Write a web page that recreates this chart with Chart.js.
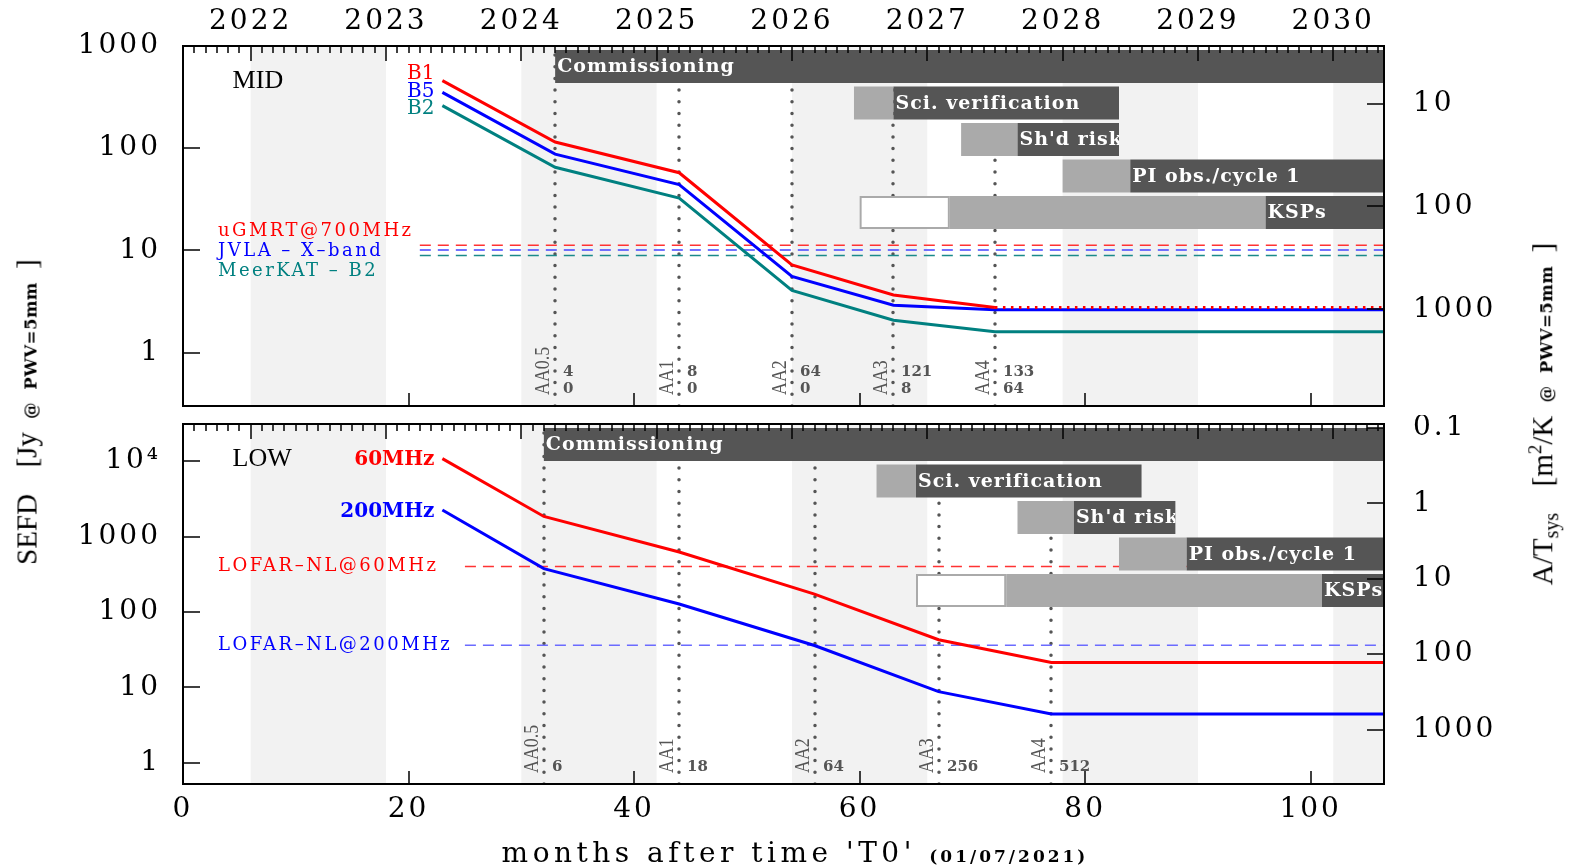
<!DOCTYPE html>
<html>
<head>
<meta charset="utf-8">
<script src="https://cdn.jsdelivr.net/npm/chart.js@4.4.1/dist/chart.umd.min.js"></script>
<style>
  html, body { margin: 0; padding: 0; background: #fff; width: 1575px; height: 866px; overflow: hidden; }
  #cTop { position: absolute; left: 0; top: 0; }
  #cBot { position: absolute; left: 0; top: 415px; }
  .vt { position: absolute; transform: translate(-50%, -50%) rotate(-90deg); white-space: nowrap;
        font-family: 'Liberation Serif', serif; font-size: 29px; color: #000; word-spacing: 6px; }
  .sm { font-family: 'DejaVu Serif', serif; font-weight: bold; font-size: 16.5px; letter-spacing: 0.5px; }
  .ht { position: absolute; transform: translate(-50%, -50%); white-space: nowrap;
        font-family: 'DejaVu Serif', serif; font-size: 28px; letter-spacing: 4.5px; color: #000; }
  .ht .sm2 { font-weight: bold; font-size: 17px; letter-spacing: 3px; }
</style>
</head>
<body>
<canvas id="cTop" width="1575" height="415"></canvas>
<canvas id="cBot" width="1575" height="451"></canvas>
<div class="vt" style="left:27px; top:412px;">SEFD&nbsp;&nbsp;[Jy&nbsp;<span class="sm">@ PWV=5mm</span>&nbsp;]</div>
<div class="vt" style="left:1544px; top:414px;">A/T<sub style="font-size:20px">sys</sub>&nbsp;&nbsp;[m<sup style="font-size:19px">2</sup>/K&nbsp;<span class="sm">@ PWV=5mm</span>&nbsp;]</div>
<div class="ht" style="left:795px; top:852px;">months after time 'T0' <span class="sm2">(01/07/2021)</span></div>
<script>
// ---------------- DATA ----------------
const monthMax = 106.5;
const yearLabels = ['2022', '2023', '2024', '2025', '2026', '2027', '2028', '2029', '2030'];
const yearTickMonths = [6, 18, 30, 42, 54, 66, 78, 90, 102];
const xTickMonths = [0, 10, 20, 30, 40, 50, 60, 70, 80, 90, 100];
const xLabelMonths = [0, 20, 40, 60, 80, 100];

// MID (SEFD in Jy)
const midMonths = [23, 33, 44, 54, 63, 72, 106.5];
const midB1 = [458, 115, 57.5, 7.2, 3.66, 2.76, 2.76];
const midB5 = [352, 87.5, 44, 5.56, 2.9, 2.63, 2.63];
const midB2 = [261, 65, 32.5, 4.06, 2.07, 1.6, 1.6];
const midRefNames = ['uGMRT@700MHz', 'JVLA – X–band', 'MeerKAT – B2'];
const midRefValues = [11.2, 10.1, 8.9];
const midRefStart = 21;
const milestoneNames = ['AA0.5', 'AA1', 'AA2', 'AA3', 'AA4'];
const midMilestoneMonths = [33, 44, 54, 63, 72];
const midDishesSKA = ['4', '8', '64', '121', '133'];
const midDishesMeerKAT = ['0', '0', '0', '8', '64'];

// LOW (SEFD in Jy)
const lowMonths = [23, 32, 44, 56, 67, 77, 106.5];
const low60 = [10800, 1850, 625, 173, 43, 21.5, 21.5];
const low200 = [2250, 376, 128, 36, 8.8, 4.45, 4.45];
const lowRefNames = ['LOFAR–NL@60MHz', 'LOFAR–NL@200MHz'];
const lowRefValues = [400, 36.2];
const lowRefStart = 25;
const lowMilestoneMonths = [32, 44, 56, 67, 77];
const lowStations = ['6', '18', '64', '256', '512'];

// Phases (months): open box start, light start, dark start, end
const phaseNames = ['Commissioning', 'Sci. verification', "Sh'd risk", 'PI obs./cycle 1', 'KSPs'];
const midPhaseOpen  = [null, null, null, null, 60];
const midPhaseLight = [null, 59.5, 69, 78, 68];
const midPhaseDark  = [33, 63, 74, 84, 96];
const midPhaseEnd   = [106.5, 83, 83, 106.5, 106.5];
const lowPhaseOpen  = [null, null, null, null, 65];
const lowPhaseLight = [null, 61.5, 74, 83, 73];
const lowPhaseDark  = [32, 65, 79, 89, 101];
const lowPhaseEnd   = [106.5, 85, 88, 106.5, 106.5];

// A/Tsys [m^2/K] = 2 k_B / SEFD  -> 2760 / SEFD[Jy]
const AT_FACTOR = 2760;

// ---------------- HELPERS ----------------
Chart.defaults.font.family = 'DejaVu Serif';
const RED = '#ff0000', BLUE = '#0000ff', TEAL = '#008080';

function isDecade(v) { const l = Math.log10(v); return Math.abs(l - Math.round(l)) < 1e-6; }
function isNiceLog(v) {
  const e = Math.floor(Math.log10(v) + 1e-9);
  const s = v / Math.pow(10, e);
  const r = Math.round(s);
  return Math.abs(s - r) < 1e-6 && r >= 1 && r <= 9;
}
const supDigits = { '0': '⁰', '1': '¹', '2': '²', '3': '³', '4': '⁴', '5': '⁵', '6': '⁶', '7': '⁷', '8': '⁸', '9': '⁹' };
function decadeLabel(v) {
  const e = Math.round(Math.log10(v));
  if (e < 0) return Math.pow(10, e).toFixed(-e);
  if (e >= 4) return '10' + String(e).split('').map(c => supDigits[c]).join('');
  return String(Math.pow(10, e));
}
const tickFont = { family: 'DejaVu Serif', size: 28 };
function zeroPad(s) { s.paddingTop = 0; s.paddingBottom = 0; s.paddingLeft = 0; s.paddingRight = 0; }

function makePanelPlugin(cfg) {
  return {
    id: 'panel_' + cfg.id,
    beforeDraw(chart) { chart.ctx.letterSpacing = '3px'; },
    beforeDatasetsDraw(chart) {
      const { ctx, chartArea: a } = chart;
      const xs = chart.scales.x;
      ctx.save();
      ctx.letterSpacing = '0px';
      ctx.beginPath(); ctx.rect(a.left, a.top, a.width, a.height); ctx.clip();
      ctx.fillStyle = '#f2f2f2';
      yearTickMonths.forEach((m, i) => {
        if (i % 2) return;
        const x0 = xs.getPixelForValue(m), x1 = xs.getPixelForValue(Math.min(m + 12, monthMax));
        ctx.fillRect(x0, a.top, x1 - x0, a.height);
      });
      ctx.strokeStyle = '#555'; ctx.lineWidth = 3.5; ctx.lineCap = 'round'; ctx.setLineDash([0, 11.7]);
      cfg.milestoneMonths.forEach(m => {
        const px = Math.round(xs.getPixelForValue(m));
        ctx.beginPath(); ctx.moveTo(px, a.bottom); ctx.lineTo(px, a.top); ctx.stroke();
      });
      ctx.restore();
    },
    afterDatasetsDraw(chart) {
      const { ctx, chartArea: a } = chart;
      const xs = chart.scales.x, ys = chart.scales.y, yr = chart.scales.yR;
      const px = v => xs.getPixelForValue(v);
      ctx.save();
      ctx.letterSpacing = '0px';
      ctx.beginPath(); ctx.rect(a.left, a.top, a.width, a.height); ctx.clip();
      // phase bars
      const P = cfg.phases;
      phaseNames.forEach((name, i) => {
        const top = a.top + 4 + i * 36.5, h = 33;
        if (P.open[i] != null) {
          const o0 = px(P.open[i]), o1 = px(P.light[i]);
          ctx.fillStyle = '#fff'; ctx.fillRect(o0, top, o1 - o0, h);
          ctx.strokeStyle = '#aaa'; ctx.lineWidth = 2; ctx.strokeRect(o0 + 1, top + 1, o1 - o0 - 2, h - 2);
        }
        if (P.light[i] != null) {
          const l0 = px(P.light[i]), l1 = px(P.dark[i]);
          ctx.fillStyle = '#aaaaaa'; ctx.fillRect(l0, top, l1 - l0, h);
        }
        const d0 = px(P.dark[i]), d1 = px(P.end[i]);
        ctx.fillStyle = '#555555'; ctx.fillRect(d0, top, d1 - d0, h);
        ctx.save();
        ctx.beginPath(); ctx.rect(d0, top, d1 - d0, h); ctx.clip();
        ctx.fillStyle = '#fff'; ctx.font = 'bold 19px "DejaVu Serif"'; ctx.letterSpacing = '1px';
        ctx.textAlign = 'left'; ctx.textBaseline = 'middle';
        ctx.fillText(name, d0 + 2, top + h / 2 + 1);
        ctx.restore();
      });
      // milestone labels
      ctx.fillStyle = '#555';
      ctx.letterSpacing = '0px';
      cfg.milestoneMonths.forEach((m, i) => {
        const p = Math.round(px(m));
        ctx.save();
        ctx.translate(p - 6, a.bottom - 11); ctx.rotate(-Math.PI / 2); ctx.scale(0.85, 1);
        ctx.font = '21px "Liberation Serif"'; ctx.textAlign = 'left'; ctx.textBaseline = 'alphabetic';
        ctx.fillText(milestoneNames[i], 0, 0);
        ctx.restore();
        ctx.font = 'bold 15px "DejaVu Serif"'; ctx.textAlign = 'left'; ctx.textBaseline = 'middle';
        const n = cfg.milestoneCounts.length;
        cfg.milestoneCounts.forEach((arr, k) => {
          ctx.fillText(arr[i], p + 8, a.bottom - 17 - (n - 1 - k) * 17);
        });
      });
      // annotation texts
      cfg.texts.forEach(t => {
        ctx.font = t.font; ctx.fillStyle = t.color; ctx.textAlign = t.align; ctx.textBaseline = 'middle';
        ctx.letterSpacing = t.spacing || '0px';
        ctx.fillText(t.text, px(t.x), ys.getPixelForValue(t.y));
        ctx.letterSpacing = '0px';
      });
      ctx.restore();
      // tick marks & frame
      ctx.save();
      ctx.strokeStyle = '#000'; ctx.lineWidth = 1.5;
      const line = (x0, y0, x1, y1) => { ctx.beginPath(); ctx.moveTo(x0, y0); ctx.lineTo(x1, y1); ctx.stroke(); };
      xs.ticks.forEach(t => {
        if (t.value > 0 && t.value < monthMax) { const p = Math.round(px(t.value)); line(p, a.bottom, p, a.bottom - 13); }
      });
      for (let m = 1; m < monthMax; m++) {
        const p = Math.round(px(m)); const major = yearTickMonths.includes(m);
        line(p, a.top, p, a.top + (major ? 15 : 7));
      }
      ys.ticks.forEach(t => {
        const p = Math.round(ys.getPixelForValue(t.value));
        line(a.left, p, a.left + (isDecade(t.value) ? 17 : 9), p);
      });
      yr.ticks.forEach(t => {
        const p = Math.round(yr.getPixelForValue(t.value));
        line(a.right, p, a.right - (isDecade(t.value) ? 17 : 9), p);
      });
      ctx.lineWidth = 2;
      ctx.strokeRect(a.left, a.top, a.width, a.height);
      ctx.restore();
    },
    afterDraw(chart) { chart.ctx.letterSpacing = '0px'; }
  };
}

function buildDatasets(cfg) {
  const ds = [];
  cfg.curves.forEach(c => {
    const d = {
      data: cfg.months.map((m, i) => ({ x: m, y: c.values[i] })),
      borderColor: c.color, borderWidth: 3, pointRadius: 0, tension: 0, fill: false,
      xAxisID: 'x', yAxisID: 'y'
    };
    if (c.dotAfter != null) {
      d.segment = { borderDash: ctx => (ctx.p0.parsed.x >= c.dotAfter - 1e-6 ? [2.5, 5.5] : undefined) };
    }
    ds.push(d);
  });
  cfg.refs.forEach(r => {
    ds.push({
      data: [{ x: r.start, y: r.value }, { x: monthMax, y: r.value }],
      borderColor: r.color, borderWidth: 1.5, borderDash: [11, 7], pointRadius: 0, fill: false,
      xAxisID: 'x', yAxisID: 'y'
    });
  });
  return ds;
}

function buildScales(cfg) {
  const scales = {
    x: {
      type: 'linear', position: 'bottom', min: 0, max: monthMax,
      afterBuildTicks: s => { s.ticks = xTickMonths.map(v => ({ value: v })); },
      ticks: { display: cfg.showX, autoSkip: false, maxRotation: 0, padding: 0, font: tickFont, color: '#000',
               callback: v => (xLabelMonths.includes(v) ? String(v) : null) },
      grid: { display: false, drawTicks: true, tickLength: 9 }, border: { display: false },
      afterFit: s => { s.height = cfg.xAxisHeight; zeroPad(s); }
    },
    y: {
      type: 'logarithmic', position: 'left', min: cfg.yMin, max: cfg.yMax,
      afterBuildTicks: s => { s.ticks = s.ticks.filter(t => isNiceLog(t.value)); },
      ticks: { autoSkip: false, padding: 0, font: tickFont, color: '#000',
               callback: v => (isDecade(v) ? decadeLabel(v) : null) },
      grid: { display: false, drawTicks: true, tickLength: 22 }, border: { display: false },
      afterFit: s => { s.width = 183; zeroPad(s); }
    },
    yR: {
      type: 'logarithmic', position: 'right', reverse: true,
      min: AT_FACTOR / cfg.yMax, max: AT_FACTOR / cfg.yMin,
      afterBuildTicks: s => { s.ticks = s.ticks.filter(t => isNiceLog(t.value)); },
      ticks: { autoSkip: false, padding: 0, font: tickFont, color: '#000',
               callback: v => (isDecade(v) ? decadeLabel(v) : null) },
      grid: { display: false, drawTicks: true, tickLength: 29 }, border: { display: false },
      afterFit: s => { s.width = 191; zeroPad(s); }
    }
  };
  if (cfg.showYears) {
    scales.xTop = {
      type: 'linear', position: 'top', min: 0, max: monthMax,
      afterBuildTicks: s => { s.ticks = yearTickMonths.map(v => ({ value: v })); },
      ticks: { autoSkip: false, maxRotation: 0, padding: 0, font: tickFont, color: '#000',
               callback: v => yearLabels[yearTickMonths.indexOf(v)] },
      grid: { display: false, drawTicks: true, tickLength: 7 }, border: { display: false },
      afterFit: s => { s.height = 46; zeroPad(s); }
    };
  }
  return scales;
}

function makeChart(canvasId, cfg) {
  return new Chart(document.getElementById(canvasId), {
    type: 'line',
    data: { datasets: buildDatasets(cfg) },
    options: {
      responsive: false, animation: false, events: [],
      layout: { padding: { top: cfg.padTop, bottom: 0, left: 0, right: 0 } },
      plugins: { legend: { display: false }, tooltip: { enabled: false }, title: { display: false } },
      scales: buildScales(cfg)
    },
    plugins: [makePanelPlugin(cfg)]
  });
}

const labelFontMono = '18px "DejaVu Serif"';

makeChart('cTop', {
  id: 'mid', showYears: true, showX: false, xAxisHeight: 9, padTop: 0,
  yMin: 0.318, yMax: 1000,
  months: midMonths,
  curves: [
    { values: midB1, color: RED, dotAfter: 72 },
    { values: midB5, color: BLUE },
    { values: midB2, color: TEAL }
  ],
  refs: [
    { value: midRefValues[0], start: midRefStart, color: '#ff3333' },
    { value: midRefValues[1], start: midRefStart, color: '#4444ff' },
    { value: midRefValues[2], start: midRefStart, color: '#1a8a8a' }
  ],
  milestoneMonths: midMilestoneMonths,
  milestoneCounts: [midDishesSKA, midDishesMeerKAT],
  phases: { open: midPhaseOpen, light: midPhaseLight, dark: midPhaseDark, end: midPhaseEnd },
  texts: [
    { text: 'MID', x: 4.4, y: 453, font: '26px "Liberation Serif"', color: '#000', align: 'left' },
    { text: 'B1', x: 22.3, y: 531, font: '20px "DejaVu Serif"', color: RED, align: 'right' },
    { text: 'B5', x: 22.3, y: 354, font: '20px "DejaVu Serif"', color: BLUE, align: 'right' },
    { text: 'B2', x: 22.3, y: 242, font: '20px "DejaVu Serif"', color: TEAL, align: 'right' },
    { text: midRefNames[0], x: 3.1, y: 15.2, font: labelFontMono, color: RED, align: 'left', spacing: '2.5px' },
    { text: midRefNames[1], x: 3.1, y: 9.7, font: labelFontMono, color: BLUE, align: 'left', spacing: '2.5px' },
    { text: midRefNames[2], x: 3.1, y: 6.2, font: labelFontMono, color: TEAL, align: 'left', spacing: '2.5px' }
  ]
});

makeChart('cBot', {
  id: 'low', showYears: false, showX: true, xAxisHeight: 82, padTop: 9,
  yMin: 0.525, yMax: 31100,
  months: lowMonths,
  curves: [
    { values: low60, color: RED },
    { values: low200, color: BLUE }
  ],
  refs: [
    { value: lowRefValues[0], start: lowRefStart, color: '#ff3333' },
    { value: lowRefValues[1], start: lowRefStart, color: '#6b6bff' }
  ],
  milestoneMonths: lowMilestoneMonths,
  milestoneCounts: [lowStations],
  phases: { open: lowPhaseOpen, light: lowPhaseLight, dark: lowPhaseDark, end: lowPhaseEnd },
  texts: [
    { text: 'LOW', x: 4.4, y: 10500, font: '26px "Liberation Serif"', color: '#000', align: 'left' },
    { text: '60MHz', x: 22.3, y: 10500, font: 'bold 20px "DejaVu Serif"', color: RED, align: 'right' },
    { text: '200MHz', x: 22.3, y: 2150, font: 'bold 20px "DejaVu Serif"', color: BLUE, align: 'right' },
    { text: lowRefNames[0], x: 3.1, y: lowRefValues[0], font: labelFontMono, color: RED, align: 'left', spacing: '2.5px' },
    { text: lowRefNames[1], x: 3.1, y: lowRefValues[1], font: labelFontMono, color: BLUE, align: 'left', spacing: '2.5px' }
  ]
});
</script>
</body>
</html>
